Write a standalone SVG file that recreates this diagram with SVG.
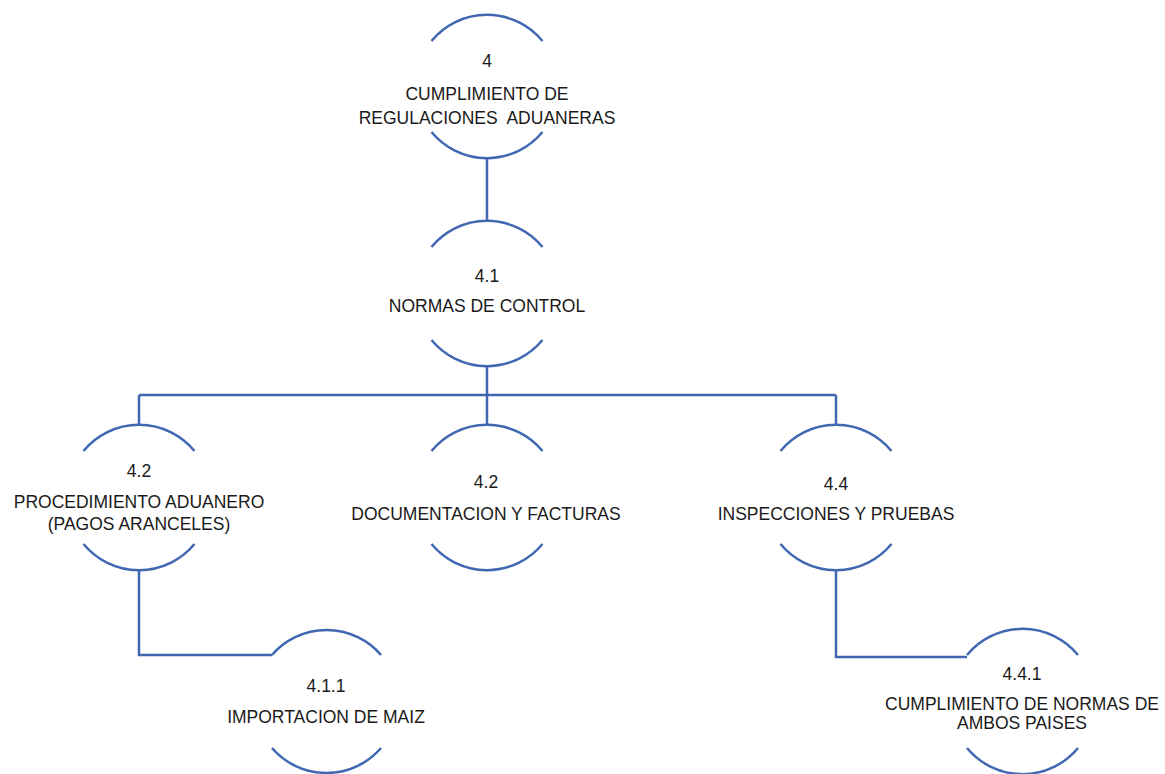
<svg xmlns="http://www.w3.org/2000/svg" width="1165" height="774" viewBox="0 0 1165 774">
<style>
.arc{fill:none;stroke:#4068B2;stroke-width:2.5}
.con{fill:none;stroke:#4068B2;stroke-width:2.5}
text{font-family:"Liberation Sans",Arial,sans-serif;font-size:17.5px;fill:#1a1a1a;text-anchor:middle;white-space:pre}
</style>
<rect width="1165" height="774" fill="#ffffff"/>
<g id="connectors">
<path class="con" d="M487,158 V221"/>
<path class="con" d="M487,366 V395 M139,395 H836 M139,395 V425 M487,395 V425 M836,395 V425"/>
<path class="con" d="M139,570 V655 H272"/>
<path class="con" d="M836,570 V657 H967"/>
</g>
<g id="n4">
<path class="arc" d="M431.5,41 A72 72 0 0 1 542.5,41"/>
<path class="arc" d="M431.5,132 A72 72 0 0 0 542.5,132"/>
<text x="487" y="67">4</text>
<text x="487" y="100">CUMPLIMIENTO DE</text>
<text x="487" y="124" xml:space="preserve">REGULACIONES  ADUANERAS</text>
</g>
<g id="n4_1">
<path class="arc" d="M431.5,247 A72 72 0 0 1 542.5,247"/>
<path class="arc" d="M431.5,340 A72 72 0 0 0 542.5,340"/>
<text x="487" y="282">4.1</text>
<text x="487" y="312">NORMAS DE CONTROL</text>
</g>
<g id="n4_2a">
<path class="arc" d="M83.5,451 A72 72 0 0 1 194.5,451"/>
<path class="arc" d="M83.5,544 A72 72 0 0 0 194.5,544"/>
<text x="139" y="477">4.2</text>
<text x="139" y="508">PROCEDIMIENTO ADUANERO</text>
<text x="139" y="530">(PAGOS ARANCELES)</text>
</g>
<g id="n4_2b">
<path class="arc" d="M431.5,451 A72 72 0 0 1 542.5,451"/>
<path class="arc" d="M431.5,544 A72 72 0 0 0 542.5,544"/>
<text x="486" y="488">4.2</text>
<text x="486" y="520">DOCUMENTACION Y FACTURAS</text>
</g>
<g id="n4_4">
<path class="arc" d="M780.5,451 A72 72 0 0 1 891.5,451"/>
<path class="arc" d="M780.5,544 A72 72 0 0 0 891.5,544"/>
<text x="836" y="490">4.4</text>
<text x="836" y="520">INSPECCIONES Y PRUEBAS</text>
</g>
<g id="n4_1_1">
<path class="arc" d="M272,655 A72 72 0 0 1 381,655"/>
<path class="arc" d="M272,748 A72 72 0 0 0 381,748"/>
<text x="326" y="692">4.1.1</text>
<text x="326" y="723">IMPORTACION DE MAIZ</text>
</g>
<g id="n4_4_1">
<path class="arc" d="M967,655 A72 72 0 0 1 1078,655"/>
<path class="arc" d="M967,748 A72 72 0 0 0 1078,748"/>
<text x="1022" y="680">4.4.1</text>
<text x="1022" y="710">CUMPLIMIENTO DE NORMAS DE</text>
<text x="1022" y="729">AMBOS PAISES</text>
</g>
</svg>
